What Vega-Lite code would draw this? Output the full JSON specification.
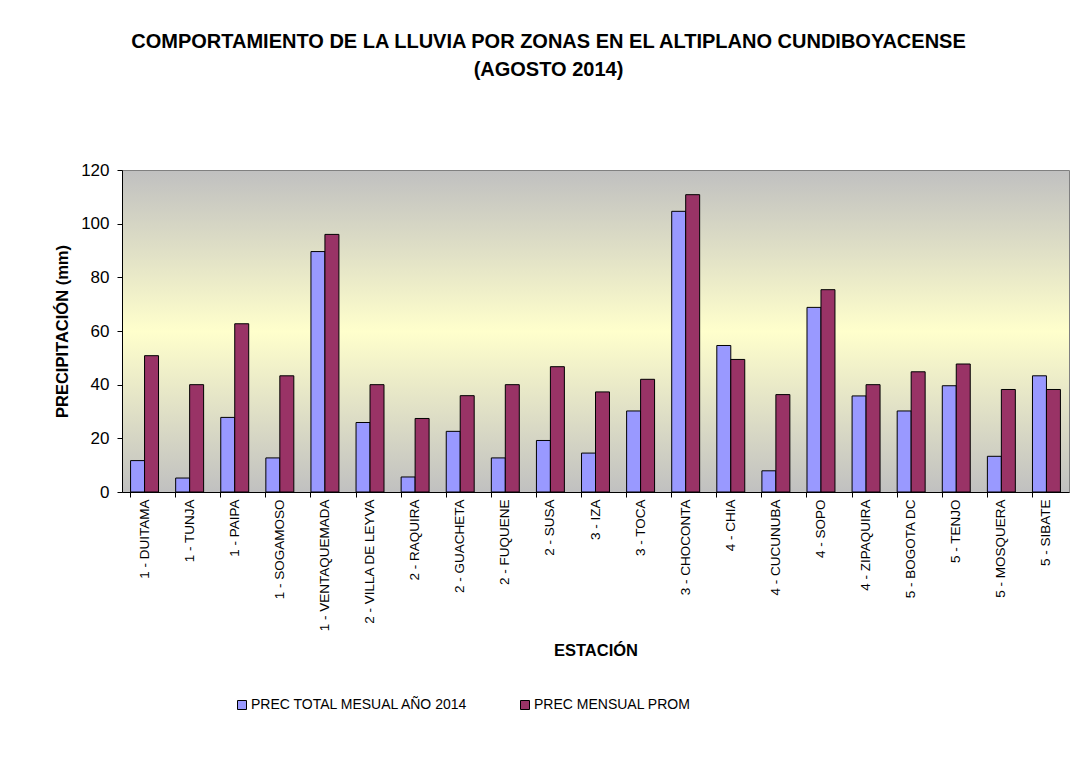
{
  "$schema": "https://vega.github.io/schema/vega-lite/v6.json",
  "autosize": {"type": "none"},
  "padding": {"left": 122, "top": 170, "right": 15, "bottom": 272},
  "width": 947,
  "height": 322,
  "background": "white",
  "title": {
    "text": ["COMPORTAMIENTO DE LA LLUVIA POR ZONAS EN EL ALTIPLANO CUNDIBOYACENSE", "(AGOSTO 2014)"],
    "anchor": "middle",
    "dx": -47,
    "offset": 81,
    "font": "Liberation Sans",
    "fontSize": 20,
    "fontWeight": "bold",
    "color": "#000000",
    "lineHeight": 28
  },
  "data": {
    "values": [
      {"estacion": "1 - DUITAMA", "serie": "PREC TOTAL MESUAL AÑO 2014", "valor": 11.7},
      {"estacion": "1 - DUITAMA", "serie": "PREC MENSUAL PROM", "valor": 50.8},
      {"estacion": "1 - TUNJA", "serie": "PREC TOTAL MESUAL AÑO 2014", "valor": 5.2},
      {"estacion": "1 - TUNJA", "serie": "PREC MENSUAL PROM", "valor": 40.0},
      {"estacion": "1 - PAIPA", "serie": "PREC TOTAL MESUAL AÑO 2014", "valor": 27.8},
      {"estacion": "1 - PAIPA", "serie": "PREC MENSUAL PROM", "valor": 62.7},
      {"estacion": "1 - SOGAMOSO", "serie": "PREC TOTAL MESUAL AÑO 2014", "valor": 12.7},
      {"estacion": "1 - SOGAMOSO", "serie": "PREC MENSUAL PROM", "valor": 43.3},
      {"estacion": "1 - VENTAQUEMADA", "serie": "PREC TOTAL MESUAL AÑO 2014", "valor": 89.6},
      {"estacion": "1 - VENTAQUEMADA", "serie": "PREC MENSUAL PROM", "valor": 96.0},
      {"estacion": "2 - VILLA DE LEYVA", "serie": "PREC TOTAL MESUAL AÑO 2014", "valor": 25.9},
      {"estacion": "2 - VILLA DE LEYVA", "serie": "PREC MENSUAL PROM", "valor": 40.0},
      {"estacion": "2 - RAQUIRA", "serie": "PREC TOTAL MESUAL AÑO 2014", "valor": 5.6},
      {"estacion": "2 - RAQUIRA", "serie": "PREC MENSUAL PROM", "valor": 27.4},
      {"estacion": "2 - GUACHETA", "serie": "PREC TOTAL MESUAL AÑO 2014", "valor": 22.6},
      {"estacion": "2 - GUACHETA", "serie": "PREC MENSUAL PROM", "valor": 35.9},
      {"estacion": "2 - FUQUENE", "serie": "PREC TOTAL MESUAL AÑO 2014", "valor": 12.7},
      {"estacion": "2 - FUQUENE", "serie": "PREC MENSUAL PROM", "valor": 40.0},
      {"estacion": "2 - SUSA", "serie": "PREC TOTAL MESUAL AÑO 2014", "valor": 19.2},
      {"estacion": "2 - SUSA", "serie": "PREC MENSUAL PROM", "valor": 46.7},
      {"estacion": "3 - IZA", "serie": "PREC TOTAL MESUAL AÑO 2014", "valor": 14.5},
      {"estacion": "3 - IZA", "serie": "PREC MENSUAL PROM", "valor": 37.3},
      {"estacion": "3 - TOCA", "serie": "PREC TOTAL MESUAL AÑO 2014", "valor": 30.2},
      {"estacion": "3 - TOCA", "serie": "PREC MENSUAL PROM", "valor": 42.0},
      {"estacion": "3 - CHOCONTA", "serie": "PREC TOTAL MESUAL AÑO 2014", "valor": 104.6},
      {"estacion": "3 - CHOCONTA", "serie": "PREC MENSUAL PROM", "valor": 110.8},
      {"estacion": "4 - CHIA", "serie": "PREC TOTAL MESUAL AÑO 2014", "valor": 54.6},
      {"estacion": "4 - CHIA", "serie": "PREC MENSUAL PROM", "valor": 49.4},
      {"estacion": "4 - CUCUNUBA", "serie": "PREC TOTAL MESUAL AÑO 2014", "valor": 7.9},
      {"estacion": "4 - CUCUNUBA", "serie": "PREC MENSUAL PROM", "valor": 36.3},
      {"estacion": "4 - SOPO", "serie": "PREC TOTAL MESUAL AÑO 2014", "valor": 68.8},
      {"estacion": "4 - SOPO", "serie": "PREC MENSUAL PROM", "valor": 75.4},
      {"estacion": "4 - ZIPAQUIRA", "serie": "PREC TOTAL MESUAL AÑO 2014", "valor": 35.8},
      {"estacion": "4 - ZIPAQUIRA", "serie": "PREC MENSUAL PROM", "valor": 40.0},
      {"estacion": "5 - BOGOTA DC", "serie": "PREC TOTAL MESUAL AÑO 2014", "valor": 30.2},
      {"estacion": "5 - BOGOTA DC", "serie": "PREC MENSUAL PROM", "valor": 44.8},
      {"estacion": "5 - TENJO", "serie": "PREC TOTAL MESUAL AÑO 2014", "valor": 39.6},
      {"estacion": "5 - TENJO", "serie": "PREC MENSUAL PROM", "valor": 47.7},
      {"estacion": "5 - MOSQUERA", "serie": "PREC TOTAL MESUAL AÑO 2014", "valor": 13.3},
      {"estacion": "5 - MOSQUERA", "serie": "PREC MENSUAL PROM", "valor": 38.2},
      {"estacion": "5 - SIBATE", "serie": "PREC TOTAL MESUAL AÑO 2014", "valor": 43.3},
      {"estacion": "5 - SIBATE", "serie": "PREC MENSUAL PROM", "valor": 38.2}
    ]
  },
  "mark": {"type": "bar", "stroke": "#000000", "strokeWidth": 1},
  "encoding": {
    "x": {
      "field": "estacion",
      "type": "nominal",
      "sort": null,
      "scale": {"paddingInner": 0.38, "paddingOuter": 0.19},
      "axis": {
        "title": "ESTACIÓN",
        "labelAngle": -90,
        "labelAlign": "right",
        "labelBaseline": "middle",
        "labelFont": "Liberation Sans",
        "labelFontSize": 13.5,
        "labelColor": "#000000",
        "labelPadding": 2,
        "labelLimit": 300,
        "bandPosition": 0,
        "tickSize": 5,
        "tickColor": "#000000",
        "domainColor": "#000000",
        "titleFont": "Liberation Sans",
        "titleFontSize": 16.5,
        "titleFontWeight": "bold",
        "titleColor": "#000000",
        "titlePadding": 12
      }
    },
    "xOffset": {"field": "serie", "type": "nominal", "sort": ["PREC TOTAL MESUAL AÑO 2014", "PREC MENSUAL PROM"]},
    "y": {
      "field": "valor",
      "type": "quantitative",
      "scale": {"domain": [0, 120], "nice": false},
      "axis": {
        "title": "PRECIPITACIÓN (mm)",
        "values": [0, 20, 40, 60, 80, 100, 120],
        "grid": false,
        "labelFont": "Liberation Sans",
        "labelFontSize": 17,
        "labelColor": "#000000",
        "labelPadding": 8,
        "tickSize": 5,
        "tickColor": "#000000",
        "domainColor": "#000000",
        "titleFont": "Liberation Sans",
        "titleFontSize": 16.5,
        "titleFontWeight": "bold",
        "titleColor": "#000000",
        "titlePadding": 10
      }
    },
    "color": {
      "field": "serie",
      "type": "nominal",
      "sort": ["PREC TOTAL MESUAL AÑO 2014", "PREC MENSUAL PROM"],
      "scale": {"domain": ["PREC TOTAL MESUAL AÑO 2014", "PREC MENSUAL PROM"], "range": ["#9999ff", "#993366"]},
      "legend": {
        "title": null,
        "orient": "none",
        "direction": "horizontal",
        "legendX": 113,
        "legendY": 528,
        "symbolType": "square",
        "symbolSize": 81,
        "symbolStrokeColor": "#000000",
        "symbolStrokeWidth": 1,
        "symbolOpacity": 1,
        "labelFont": "Liberation Sans",
        "labelFontSize": 14,
        "labelColor": "#000000",
        "labelLimit": 400,
        "columnPadding": 49,
        "labelOffset": 2
      }
    }
  },
  "config": {
    "view": {
      "stroke": "#808080",
      "strokeWidth": 1,
      "fill": {
        "gradient": "linear",
        "x1": 0, "y1": 0, "x2": 0, "y2": 1,
        "stops": [
          {"offset": 0, "color": "#c0c0c0"},
          {"offset": 0.5, "color": "#ffffcc"},
          {"offset": 1, "color": "#c0c0c0"}
        ]
      }
    }
  }
}
